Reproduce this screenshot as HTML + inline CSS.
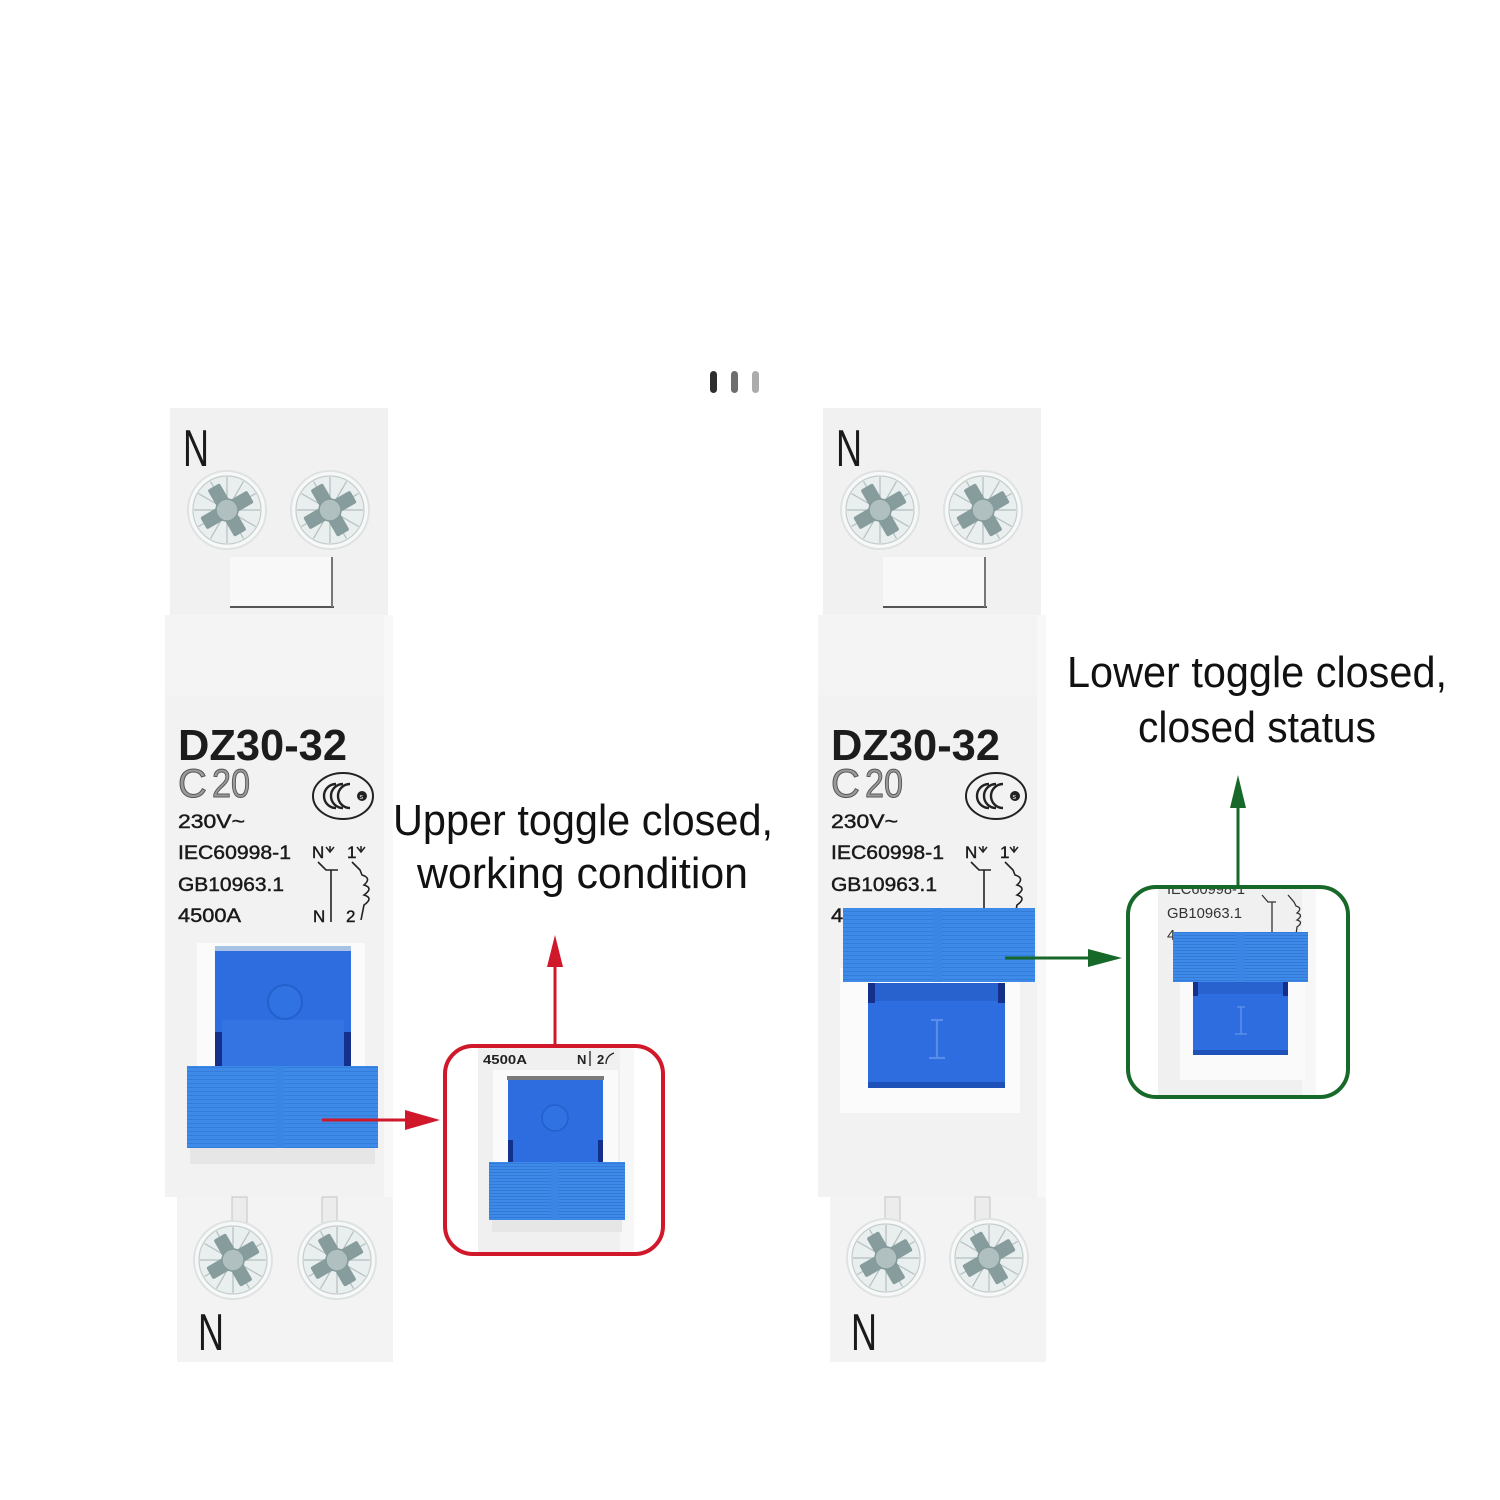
<!DOCTYPE html>
<html>
<head>
<meta charset="utf-8">
<style>
  html,body{margin:0;padding:0;background:#ffffff;}
  svg{display:block;}
  text{font-family:"Liberation Sans", Arial, sans-serif;}
</style>
</head>
<body>
<svg width="1500" height="1500" viewBox="0 0 1500 1500" xmlns="http://www.w3.org/2000/svg">
<defs>
  <pattern id="gr" width="6" height="4" patternUnits="userSpaceOnUse">
    <rect width="6" height="4" fill="#3d8ae8"/>
    <rect y="3" width="6" height="1" fill="#337cd9"/>
  </pattern>
  <pattern id="gr2" width="6" height="3" patternUnits="userSpaceOnUse">
    <rect width="6" height="3" fill="#3d8ae8"/>
    <rect y="2" width="6" height="1" fill="#3479d6"/>
  </pattern>
  <g id="screw">
    <circle r="39" fill="#f7f8f8" stroke="#dfe2e2" stroke-width="2"/>
    <circle r="34" fill="#e9eeee" stroke="#c6cdcd" stroke-width="1.2"/>
    <path d="M12 0L33 0M10.4 6L28.6 16.5M6 10.4L16.5 28.6M0 12L0 33M-6 10.4L-16.5 28.6M-10.4 6L-28.6 16.5M-12 0L-33 0M-10.4 -6L-28.6 -16.5M-6 -10.4L-16.5 -28.6M0 -12L0 -33M6 -10.4L16.5 -28.6M10.4 -6L28.6 -16.5" stroke="#b3c0c0" stroke-width="1.2"/>
    <g transform="rotate(-30)">
      <rect x="-27" y="-7" width="54" height="14" rx="2" fill="#879c9c"/>
      <rect x="-7" y="-27" width="14" height="54" rx="2" fill="#879c9c"/>
    </g>
    <circle r="11" fill="#b0bfbf" stroke="#859a9a" stroke-width="1.5"/>
  </g>
  <clipPath id="cpRed"><rect x="445" y="1046" width="218" height="208" rx="28"/></clipPath>
  <clipPath id="cpGreen"><rect x="1128" y="887" width="220" height="210" rx="28"/></clipPath>
</defs>

<rect width="1500" height="1500" fill="#ffffff"/>

<!-- three small bars -->
<rect x="710" y="371" width="7" height="22" rx="3.5" fill="#2e2e2e"/>
<rect x="731" y="371" width="7" height="22" rx="3.5" fill="#6e6e6e"/>
<rect x="752" y="371" width="7" height="22" rx="3.5" fill="#ababab"/>

<!-- ================= LEFT BREAKER ================= -->
<g>
  <rect x="170" y="408" width="218" height="207" fill="#f1f1f1"/>
  <rect x="165" y="615" width="228" height="582" fill="#f2f2f2"/>
  <rect x="165" y="615" width="228" height="80" fill="#f4f4f4"/>
  <rect x="384" y="615" width="9" height="582" fill="#f8f8f8"/>
  <rect x="177" y="1197" width="216" height="165" fill="#f3f3f3"/>

  <text x="183" y="466" font-size="52" textLength="26" lengthAdjust="spacingAndGlyphs" fill="#1a1a1a">N</text>
  <use href="#screw" x="227" y="510"/>
  <use href="#screw" x="330" y="510"/>

  <rect x="230" y="557" width="103" height="51" fill="#f8f8f8"/>
  <line x1="230" y1="607" x2="334" y2="607" stroke="#555" stroke-width="2"/>
  <line x1="332" y1="557" x2="332" y2="607" stroke="#777" stroke-width="2"/>

  <text x="178" y="760" font-size="44" font-weight="bold" textLength="169" lengthAdjust="spacingAndGlyphs" fill="#1c1c1c">DZ30-32</text>
  <text x="178" y="797" font-size="40" fill="#9a9a9a" stroke="#555" stroke-width="1">C</text>
  <text x="212" y="797" font-size="40" textLength="38" lengthAdjust="spacingAndGlyphs" fill="#9a9a9a" stroke="#555" stroke-width="1">20</text>
  <g fill="#1a1a1a" stroke="#1a1a1a" stroke-width="0.45">
  <text x="178" y="828" font-size="19" textLength="67" lengthAdjust="spacingAndGlyphs">230V~</text>
  <text x="178" y="859" font-size="19" textLength="113" lengthAdjust="spacingAndGlyphs">IEC60998-1</text>
  <text x="178" y="891" font-size="19" textLength="106" lengthAdjust="spacingAndGlyphs">GB10963.1</text>
  <text x="178" y="922" font-size="19" textLength="63" lengthAdjust="spacingAndGlyphs">4500A</text>
  </g>

  <!-- CCC -->
  <ellipse cx="343" cy="796" rx="30" ry="23" fill="none" stroke="#222" stroke-width="2"/>
  <path d="M336 784 a12 12 0 1 0 0 24 M343 784 a12 12 0 1 0 0 24 M350 784 a12 12 0 1 0 0 24" fill="none" stroke="#222" stroke-width="2.4"/>
  <circle cx="362" cy="796" r="5" fill="#222"/>
  <text x="359.5" y="799" font-size="7" fill="#fff">s</text>

  <!-- circuit symbol -->
  <g fill="#1a1a1a" stroke="#1a1a1a" stroke-width="0.4">
  <text x="312" y="858" font-size="17">N</text>
  <text x="347" y="858" font-size="17">1</text>
  <text x="313" y="922" font-size="17">N</text>
  <text x="346" y="922" font-size="17">2</text>
  </g>
  <path d="M326 847 l4 5 l4 -5 M330 852 l0 -6" stroke="#222" stroke-width="1.5" fill="none"/>
  <path d="M357 847 l4 5 l4 -5 M361 852 l0 -6" stroke="#222" stroke-width="1.5" fill="none"/>
  <path d="M318 862 L326 870 L338 870 M331 870 L331 922" stroke="#222" stroke-width="1.6" fill="none"/>
  <path d="M352 862 L360 870 L362 875 q10 3 2 10 q10 3 0 10 q10 3 0 10 L361 920" stroke="#222" stroke-width="1.6" fill="none"/>

  <!-- toggle -->
  <rect x="197" y="943" width="168" height="165" fill="#fbfbfb"/>
  <rect x="215" y="946" width="136" height="6" fill="#a8c2e6"/>
  <rect x="215" y="951" width="136" height="120" fill="#2d6de0"/>
  <rect x="222" y="1020" width="122" height="50" fill="#3473e2"/>
  <circle cx="285" cy="1002" r="17" fill="#3072e1" stroke="#245fcc" stroke-width="2"/>
  <rect x="215" y="1032" width="7" height="38" fill="#14308a"/>
  <rect x="344" y="1032" width="7" height="38" fill="#14308a"/>
  <rect x="187" y="1066" width="191" height="82" fill="url(#gr)"/>
  <rect x="275" y="1066" width="9" height="82" fill="#3a86e4"/>
  <rect x="190" y="1148" width="185" height="16" fill="#e6e6e6"/>

  <!-- bottom -->
  <rect x="232" y="1197" width="15" height="28" fill="#ececec" stroke="#c4c4c4" stroke-width="1"/>
  <rect x="322" y="1197" width="15" height="28" fill="#ececec" stroke="#c4c4c4" stroke-width="1"/>
  <use href="#screw" x="233" y="1260"/>
  <use href="#screw" x="337" y="1260"/>
  <text x="198" y="1350" font-size="52" textLength="26" lengthAdjust="spacingAndGlyphs" fill="#1a1a1a">N</text>
</g>

<!-- red arrows -->
<line x1="322" y1="1120" x2="410" y2="1120" stroke="#d0182a" stroke-width="3"/>
<polygon points="405,1110 440,1120 405,1130" fill="#d0182a"/>
<line x1="555" y1="1047" x2="555" y2="962" stroke="#d0182a" stroke-width="3"/>
<polygon points="547,967 555,935 563,967" fill="#d0182a"/>

<!-- red zoom box -->
<rect x="445" y="1046" width="218" height="208" rx="28" fill="#ffffff"/>
<g clip-path="url(#cpRed)">
  <rect x="478" y="1046" width="156" height="210" fill="#f0f0f0"/>
  <rect x="620" y="1046" width="14" height="210" fill="#f7f7f7"/>
  <text x="483" y="1064" font-size="13" font-weight="bold" textLength="44" lengthAdjust="spacingAndGlyphs" fill="#222">4500A</text>
  <text x="577" y="1064" font-size="13" font-weight="bold" fill="#222">N</text>
  <line x1="590" y1="1051" x2="590" y2="1066" stroke="#222" stroke-width="1.3"/>
  <text x="597" y="1064" font-size="13" font-weight="bold" fill="#222">2</text>
  <path d="M606 1064 q0 -8 8 -11" stroke="#222" stroke-width="1.3" fill="none"/>
  <rect x="493" y="1070" width="125" height="140" fill="#fafafa"/>
  <rect x="507" y="1076" width="97" height="4" fill="#7a7a7a"/>
  <rect x="508" y="1080" width="95" height="85" fill="#2d6de0"/>
  <circle cx="555" cy="1118" r="13" fill="#3072e1" stroke="#245fcc" stroke-width="1.5"/>
  <rect x="508" y="1140" width="5" height="25" fill="#14308a"/>
  <rect x="598" y="1140" width="5" height="25" fill="#14308a"/>
  <rect x="489" y="1162" width="136" height="58" fill="url(#gr2)"/>
  <rect x="551" y="1162" width="7" height="58" fill="#3a86e4"/>
  <rect x="492" y="1220" width="130" height="12" fill="#e6e6e6"/>
</g>
<rect x="445" y="1046" width="218" height="208" rx="28" fill="none" stroke="#d0182a" stroke-width="4"/>

<!-- left caption -->
<text x="393" y="835" font-size="44" textLength="380" lengthAdjust="spacingAndGlyphs" fill="#111">Upper toggle closed,</text>
<text x="417" y="888" font-size="44" textLength="331" lengthAdjust="spacingAndGlyphs" fill="#111">working condition</text>

<!-- ================= RIGHT BREAKER ================= -->
<g>
  <rect x="823" y="408" width="218" height="207" fill="#f1f1f1"/>
  <rect x="818" y="615" width="228" height="582" fill="#f2f2f2"/>
  <rect x="818" y="615" width="228" height="80" fill="#f4f4f4"/>
  <rect x="1037" y="615" width="9" height="582" fill="#f8f8f8"/>
  <rect x="830" y="1197" width="216" height="165" fill="#f3f3f3"/>

  <text x="836" y="466" font-size="52" textLength="26" lengthAdjust="spacingAndGlyphs" fill="#1a1a1a">N</text>
  <use href="#screw" x="880" y="510"/>
  <use href="#screw" x="983" y="510"/>

  <rect x="883" y="557" width="103" height="51" fill="#f8f8f8"/>
  <line x1="883" y1="607" x2="987" y2="607" stroke="#555" stroke-width="2"/>
  <line x1="985" y1="557" x2="985" y2="607" stroke="#777" stroke-width="2"/>

  <text x="831" y="760" font-size="44" font-weight="bold" textLength="169" lengthAdjust="spacingAndGlyphs" fill="#1c1c1c">DZ30-32</text>
  <text x="831" y="797" font-size="40" fill="#9a9a9a" stroke="#555" stroke-width="1">C</text>
  <text x="865" y="797" font-size="40" textLength="38" lengthAdjust="spacingAndGlyphs" fill="#9a9a9a" stroke="#555" stroke-width="1">20</text>
  <g fill="#1a1a1a" stroke="#1a1a1a" stroke-width="0.45">
  <text x="831" y="828" font-size="19" textLength="67" lengthAdjust="spacingAndGlyphs">230V~</text>
  <text x="831" y="859" font-size="19" textLength="113" lengthAdjust="spacingAndGlyphs">IEC60998-1</text>
  <text x="831" y="891" font-size="19" textLength="106" lengthAdjust="spacingAndGlyphs">GB10963.1</text>
  <text x="831" y="922" font-size="19" textLength="63" lengthAdjust="spacingAndGlyphs">4500A</text>
  </g>

  <ellipse cx="996" cy="796" rx="30" ry="23" fill="none" stroke="#222" stroke-width="2"/>
  <path d="M989 784 a12 12 0 1 0 0 24 M996 784 a12 12 0 1 0 0 24 M1003 784 a12 12 0 1 0 0 24" fill="none" stroke="#222" stroke-width="2.4"/>
  <circle cx="1015" cy="796" r="5" fill="#222"/>
  <text x="1012.5" y="799" font-size="7" fill="#fff">s</text>

  <g fill="#1a1a1a" stroke="#1a1a1a" stroke-width="0.4">
  <text x="965" y="858" font-size="17">N</text>
  <text x="1000" y="858" font-size="17">1</text>
  </g>
  <path d="M979 847 l4 5 l4 -5 M983 852 l0 -6" stroke="#222" stroke-width="1.5" fill="none"/>
  <path d="M1010 847 l4 5 l4 -5 M1014 852 l0 -6" stroke="#222" stroke-width="1.5" fill="none"/>
  <path d="M971 862 L979 870 L991 870 M984 870 L984 922" stroke="#222" stroke-width="1.6" fill="none"/>
  <path d="M1005 862 L1013 870 L1015 875 q10 3 2 10 q10 3 0 10 q10 3 0 10 L1014 920" stroke="#222" stroke-width="1.6" fill="none"/>

  <!-- toggle (lower) -->
  <rect x="840" y="968" width="180" height="145" fill="#fbfbfb"/>
  <rect x="868" y="983" width="137" height="105" fill="#2d6de0"/>
  <rect x="868" y="983" width="137" height="18" fill="#2862cf"/>
  <rect x="868" y="983" width="7" height="20" fill="#14308a"/>
  <rect x="998" y="983" width="7" height="20" fill="#14308a"/>
  <path d="M937 1020 L937 1058 M931 1020 L943 1020 M929 1058 L945 1058" stroke="#5a8de8" stroke-width="2.2" fill="none"/>
  <rect x="868" y="1082" width="137" height="6" fill="#1f52b8"/>
  <rect x="843" y="908" width="192" height="74" fill="url(#gr)"/>
  <rect x="933" y="908" width="9" height="74" fill="#3a86e4"/>

  <rect x="885" y="1197" width="15" height="28" fill="#ececec" stroke="#c4c4c4" stroke-width="1"/>
  <rect x="975" y="1197" width="15" height="28" fill="#ececec" stroke="#c4c4c4" stroke-width="1"/>
  <use href="#screw" x="886" y="1258"/>
  <use href="#screw" x="989" y="1258"/>
  <text x="851" y="1350" font-size="52" textLength="26" lengthAdjust="spacingAndGlyphs" fill="#1a1a1a">N</text>
</g>

<!-- green arrows -->
<line x1="1005" y1="958" x2="1092" y2="958" stroke="#17692a" stroke-width="3"/>
<polygon points="1088,949 1122,958 1088,967" fill="#17692a"/>
<line x1="1238" y1="889" x2="1238" y2="803" stroke="#17692a" stroke-width="3"/>
<polygon points="1230,808 1238,775 1246,808" fill="#17692a"/>

<!-- green zoom box -->
<rect x="1128" y="887" width="220" height="210" rx="28" fill="#ffffff"/>
<g clip-path="url(#cpGreen)">
  <rect x="1158" y="887" width="158" height="212" fill="#f0f0f0"/>
  <rect x="1302" y="887" width="14" height="212" fill="#f7f7f7"/>
  <text x="1167" y="894" font-size="15" textLength="78" lengthAdjust="spacingAndGlyphs" fill="#333">IEC60998-1</text>
  <text x="1167" y="918" font-size="15" textLength="75" lengthAdjust="spacingAndGlyphs" fill="#333">GB10963.1</text>
  <text x="1167" y="940" font-size="15" fill="#333">4</text>
  <path d="M1262 895 L1268 902 L1276 902 M1272 902 L1272 935" stroke="#333" stroke-width="1.3" fill="none"/>
  <path d="M1288 895 L1294 902 L1296 906 q7 2 1 7 q7 2 0 7 q7 2 0 7 L1296 935" stroke="#333" stroke-width="1.3" fill="none"/>
  <rect x="1180" y="970" width="125" height="110" fill="#fafafa"/>
  <rect x="1193" y="980" width="95" height="75" fill="#2d6de0"/>
  <rect x="1193" y="980" width="95" height="14" fill="#2862cf"/>
  <rect x="1193" y="980" width="5" height="16" fill="#14308a"/>
  <rect x="1283" y="980" width="5" height="16" fill="#14308a"/>
  <path d="M1241 1007 L1241 1034 M1237 1007 L1245 1007 M1235 1034 L1247 1034" stroke="#5a8de8" stroke-width="1.6" fill="none"/>
  <rect x="1193" y="1050" width="95" height="5" fill="#1f52b8"/>
  <rect x="1173" y="932" width="135" height="50" fill="url(#gr2)"/>
  <rect x="1237" y="932" width="7" height="50" fill="#3a86e4"/>
</g>
<rect x="1128" y="887" width="220" height="210" rx="28" fill="none" stroke="#17692a" stroke-width="4"/>

<!-- right caption -->
<text x="1067" y="687" font-size="44" textLength="380" lengthAdjust="spacingAndGlyphs" fill="#111">Lower toggle closed,</text>
<text x="1138" y="742" font-size="44" textLength="238" lengthAdjust="spacingAndGlyphs" fill="#111">closed status</text>

</svg>
</body>
</html>
